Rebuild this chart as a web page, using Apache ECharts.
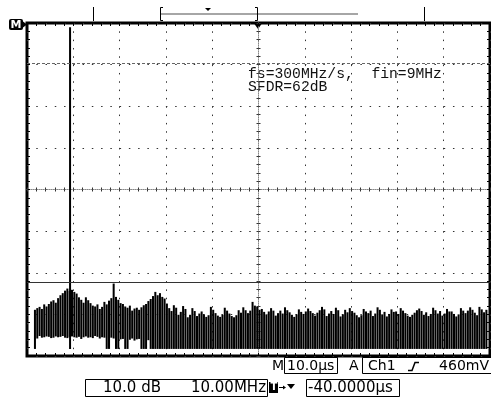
<!DOCTYPE html>
<html><head><meta charset="utf-8">
<script src="https://cdn.jsdelivr.net/npm/echarts@6/dist/echarts.min.js"></script>
<style>html,body{margin:0;padding:0;background:#fff;}#c{width:491px;height:407px;}</style>
</head><body><div id="c"></div>
<script>
// ---- data (x: MHz, 10 MHz/div; y: dB, 10 dB/div, top of screen = 0 dB) ----
// noise floor read as min/max envelope, one column every 0.5 MHz starting at 1.75 MHz
const noiseFreqStart = 1.75;
const noiseStep = 0.5;
const noiseHigh = [
 -68.9,-68.5,-68.2,-68.7,-67.6,-68.1,-67.5,-66.9,-66.6,-67.2,
 -66.1,-65.4,-64.9,-64.3,-63.8,-64.4,-64.1,-64.6,-65.0,-65.9,
 -66.5,-67.2,-65.9,-66.6,-67.3,-67.9,-68.1,-67.6,-68.7,-68.2,
 -67.0,-67.6,-66.7,-66.1,-62.6,-65.8,-66.5,-67.3,-67.5,-68.1,
 -68.4,-67.9,-69.1,-68.6,-68.4,-68.9,-68.3,-67.8,-67.5,-66.8,
 -66.3,-65.6,-64.6,-65.4,-64.9,-65.8,-66.2,-67.4,-68.5,-69.2,
 -67.8,-68.4,-70.1,-69.4,-68.0,-68.7,-70.7,-70.1,-68.5,-69.2,
 -70.4,-69.8,-69.3,-70.0,-70.6,-70.2,-68.2,-68.9,-69.7,-70.3,
 -70.6,-70.1,-68.4,-69.1,-69.8,-70.4,-70.7,-70.2,-69.0,-69.6,
 -68.3,-69.0,-69.7,-69.1,-67.0,-67.9,-68.2,-68.9,-68.7,-69.4,
 -70.0,-69.3,-68.5,-69.1,-70.3,-69.7,-69.1,-69.8,-68.3,-69.0,
 -69.5,-70.1,-70.6,-70.0,-68.8,-69.4,-69.9,-69.3,-68.6,-69.2,
 -69.7,-70.3,-69.6,-69.0,-68.2,-68.8,-70.4,-69.8,-69.2,-69.9,
 -68.4,-69.0,-70.5,-70.0,-68.9,-69.5,-68.5,-69.2,-69.6,-70.2,
 -70.7,-70.2,-68.7,-69.3,-69.7,-69.1,-70.4,-69.8,-68.3,-68.9,
 -70.0,-69.4,-70.5,-69.9,-68.8,-69.4,-69.3,-69.9,-68.5,-69.1,
 -69.7,-70.3,-70.6,-70.1,-69.6,-69.0,-68.6,-69.2,-70.1,-69.5,
 -70.4,-69.9,-68.4,-69.0,-69.8,-69.2,-70.3,-69.8,-68.7,-69.3,
 -69.3,-69.9,-70.5,-70.0,-68.5,-69.1,-69.7,-69.1,-68.3,-68.9,
 -69.6,-70.2,-68.2,-68.8,-69.5,-68.9
];
const noiseLow = [
 -78.3,-75.8,-75.2,-75.6,-75.5,-75.3,-75.4,-75.7,-75.6,-75.3,
 -75.5,-75.4,-75.2,-75.6,-75.7,-75.4,-75.3,-75.5,-75.6,-75.4,
 -75.9,-75.5,-75.3,-75.6,-75.5,-75.7,-75.2,-75.4,-75.8,-75.5,
 -75.6,-78.3,-78.3,-75.6,-75.8,-78.3,-78.3,-76.0,-75.9,-78.3,
 -78.3,-76.1,-75.8,-76.3,-76.0,-75.9,-78.3,-78.3,-78.3,-76.2,
 -78.3,-78.3,-78.3,-78.3,-78.3,-78.3,-78.3,-78.3,-78.3,-78.3,
 -78.3,-78.3,-78.3,-78.3,-78.3,-78.3,-78.3,-78.3,-78.3,-78.3,
 -78.3,-78.3,-78.3,-78.3,-78.3,-78.3,-78.3,-78.3,-78.3,-78.3,
 -78.3,-78.3,-78.3,-78.3,-78.3,-78.3,-78.3,-78.3,-78.3,-78.3,
 -78.3,-78.3,-78.3,-78.3,-78.3,-78.3,-78.3,-78.3,-78.3,-78.3,
 -78.3,-78.3,-78.3,-78.3,-78.3,-78.3,-78.3,-78.3,-78.3,-78.3,
 -78.3,-78.3,-78.3,-78.3,-78.3,-78.3,-78.3,-78.3,-78.3,-78.3,
 -78.3,-78.3,-78.3,-78.3,-78.3,-78.3,-78.3,-78.3,-78.3,-78.3,
 -78.3,-78.3,-78.3,-78.3,-78.3,-78.3,-78.3,-78.3,-78.3,-78.3,
 -78.3,-78.3,-78.3,-78.3,-78.3,-78.3,-78.3,-78.3,-78.3,-78.3,
 -78.3,-78.3,-78.3,-78.3,-78.3,-78.3,-78.3,-78.3,-78.3,-78.3,
 -78.3,-78.3,-78.3,-78.3,-78.3,-78.3,-78.3,-78.3,-78.3,-78.3,
 -78.3,-78.3,-78.3,-78.3,-78.3,-78.3,-78.3,-78.3,-78.3,-78.3,
 -78.3,-78.3,-78.3,-78.3,-78.3,-78.3,-78.3,-78.3,-78.3,-78.3,
 -78.3,-78.3,-78.3,-78.3,-78.3,-78.3
];
const fundamentalFreq = [9.3, 9.3];
const fundamentalLevel = [-1.0, -78.3];
const cursorSolid = -62.2;
const cursorDashed = -9.6;
const annotation = ['fs=300MHz/s,  fin=9MHz', 'SFDR=62dB'];
const statusTexts = ['M', '10.0\u00b5s', 'A', 'Ch1', '460mV'];
const captionTexts = ['10.0 dB', '10.00MHz', '-40.0000\u00b5s'];

const noiseData = noiseHigh.map((h, i) => [noiseFreqStart + i * noiseStep, noiseLow[i], h]);
const fundData = fundamentalFreq.map((f, i) => [f, fundamentalLevel[i]]);

const G = {left: 27, top: 23, width: 463, height: 333};
const tickCol = '#000';
function edgeAxis(extra) {
  return Object.assign({
    type: 'value', min: 0, max: 100, interval: 10,
    axisLine: {show: false, onZero: false},
    axisTick: {show: true, inside: true, length: 3, lineStyle: {color: tickCol}},
    minorTick: {show: true, splitNumber: 5, length: 3, lineStyle: {color: tickCol}},
    axisLabel: {show: false}, splitLine: {show: false}
  }, extra);
}
const chart = echarts.init(document.getElementById('c'), null, {renderer: 'canvas'});
const txtFont = '"DejaVu Sans"';
chart.setOption({
  animation: false,
  backgroundColor: '#fff',
  grid: [
    Object.assign({show: true, borderColor: '#000', borderWidth: 3, backgroundColor: 'transparent'}, G),
    {left: 27, top: 23, width: 463, height: 166.5, show: false},
    {left: 27, top: 23, width: 231.5, height: 333, show: false}
  ],
  xAxis: [
    edgeAxis({gridIndex: 0, position: 'bottom',
      splitLine: {show: true, lineStyle: {color: '#333', width: 1, type: [1.5, 6.825], cap: 'butt'}}}),
    edgeAxis({gridIndex: 0, position: 'top'}),
    edgeAxis({gridIndex: 1, position: 'bottom',
      axisLine: {show: true, onZero: false, lineStyle: {color: '#888', width: 1, type: [1, 1]}},
      axisTick: {show: true, inside: true, length: 2, lineStyle: {color: '#333'}},
      minorTick: {show: true, splitNumber: 5, length: 2, lineStyle: {color: '#333'}}}),
    edgeAxis({gridIndex: 1, position: 'bottom',
      axisTick: {show: true, inside: false, length: 2, lineStyle: {color: '#333'}},
      minorTick: {show: true, splitNumber: 5, length: 2, lineStyle: {color: '#333'}}}),
    {gridIndex: 2, type: 'value', min: 0, max: 50, show: false}
  ],
  yAxis: [
    edgeAxis({gridIndex: 0, position: 'left', min: -80, max: 0,
      splitLine: {show: true, lineStyle: {color: '#333', width: 1, type: [1.5, 7.76], cap: 'butt'}}}),
    edgeAxis({gridIndex: 0, position: 'right', min: -80, max: 0}),
    {gridIndex: 1, type: 'value', min: -40, max: 0, show: false},
    edgeAxis({gridIndex: 2, position: 'right', min: -80, max: 0,
      axisLine: {show: true, onZero: false, lineStyle: {color: '#888', width: 1, type: [1, 1]}},
      axisTick: {show: true, inside: true, length: 2, lineStyle: {color: '#333'}},
      minorTick: {show: true, splitNumber: 5, length: 2, lineStyle: {color: '#333'}}}),
    edgeAxis({gridIndex: 2, position: 'right', min: -80, max: 0,
      axisTick: {show: true, inside: false, length: 2, lineStyle: {color: '#333'}},
      minorTick: {show: true, splitNumber: 5, length: 2, lineStyle: {color: '#333'}}})
  ],
  series: [
    {
      type: 'custom', xAxisIndex: 0, yAxisIndex: 0, data: noiseData, silent: true,
      renderItem: function (params, api) {
        const f = api.value(0), lo = api.value(1), hi = api.value(2);
        const a = api.coord([f - noiseStep / 2, hi]);
        const b = api.coord([f + noiseStep / 2, lo]);
        return {type: 'rect', shape: {x: a[0], y: a[1], width: b[0] - a[0] - 0.3, height: b[1] - a[1]},
          style: {fill: '#000'}};
      }
    },
    {
      type: 'line', xAxisIndex: 0, yAxisIndex: 0, data: fundData, symbol: 'none', silent: true,
      lineStyle: {color: '#000', width: 2},
      markLine: {
        silent: true, symbol: 'none', label: {show: false},
        data: [
          {yAxis: cursorSolid, lineStyle: {color: '#333', width: 1, type: 'solid'}},
          {yAxis: cursorDashed, lineStyle: {color: '#666', width: 1, type: [3, 2]}}
        ]
      }
    }
  ],
  graphic: [
    {type: 'text', left: 248, top: 67, silent: true,
     style: {text: annotation.join('\n'), font: '14.7px "Liberation Mono"', lineHeight: 13, fill: '#111'}},
    {type: 'line', shape: {x1: 93.5, y1: 7, x2: 93.5, y2: 21}, style: {stroke: '#000', lineWidth: 1}},
    {type: 'line', shape: {x1: 424.5, y1: 7, x2: 424.5, y2: 21}, style: {stroke: '#000', lineWidth: 1}},
    {type: 'line', shape: {x1: 161, y1: 14, x2: 358, y2: 14}, style: {stroke: '#888', lineWidth: 1.5}},
    {type: 'polyline', shape: {points: [[163, 7.5], [160.5, 7.5], [160.5, 20.5], [163, 20.5]]}, style: {stroke: '#000', fill: null, lineWidth: 1}},
    {type: 'polyline', shape: {points: [[255, 7.5], [257.5, 7.5], [257.5, 20.5], [255, 20.5]]}, style: {stroke: '#000', fill: null, lineWidth: 1}},
    {type: 'polygon', shape: {points: [[205, 8], [211, 8], [208, 11]]}, style: {fill: '#000'}},
    {type: 'polygon', shape: {points: [[253, 22], [263, 22], [258, 29]]}, style: {fill: '#000'}},
    {type: 'rect', shape: {x: 9, y: 19, width: 14, height: 11, r: 2}, style: {fill: '#000'}},
    {type: 'polygon', shape: {points: [[23, 21.5], [27, 24.5], [23, 27.5]]}, style: {fill: '#000'}},
    {type: 'text', left: 10.5, top: 19.5, style: {text: 'M', font: 'bold 11px "DejaVu Sans"', fill: '#fff'}},
    {type: 'text', left: 272, top: 359, style: {text: statusTexts[0], font: '14px ' + txtFont, fill: '#000'}},
    {type: 'rect', shape: {x: 284.5, y: 357.5, width: 53, height: 16}, style: {stroke: '#000', fill: null, lineWidth: 1}},
    {type: 'text', left: 287, top: 359, style: {text: statusTexts[1], font: '14px ' + txtFont, fill: '#000'}},
    {type: 'text', left: 349, top: 359, style: {text: statusTexts[2], font: '14px ' + txtFont, fill: '#000'}},
    {type: 'rect', shape: {x: 362.5, y: 357.5, width: 132, height: 16}, style: {stroke: '#000', fill: null, lineWidth: 1}},
    {type: 'text', left: 368, top: 359, style: {text: statusTexts[3], font: '14px ' + txtFont, fill: '#000'}},
    {type: 'polyline', shape: {points: [[408, 370.5], [412, 370.5], [415, 362.5], [419, 362.5]]}, style: {stroke: '#000', fill: null, lineWidth: 1.5}},
    {type: 'text', right: 2, top: 359, style: {text: statusTexts[4], font: '14px ' + txtFont, fill: '#000'}},
    {type: 'rect', shape: {x: 85.5, y: 379.5, width: 182, height: 17}, style: {stroke: '#000', fill: null, lineWidth: 1}},
    {type: 'text', left: 103, top: 380.5, style: {text: captionTexts[0], font: '15px ' + txtFont, fill: '#000'}},
    {type: 'text', right: 491 - 266, top: 380.5, style: {text: captionTexts[1], font: '15px ' + txtFont, fill: '#000'}},
    {type: 'rect', shape: {x: 269, y: 382, width: 9, height: 11}, style: {fill: '#000'}},
    {type: 'text', left: 270.5, top: 382, style: {text: 'T', font: 'bold 10px "DejaVu Sans"', fill: '#fff'}},
    {type: 'line', shape: {x1: 279, y1: 387.5, x2: 284, y2: 387.5}, style: {stroke: '#000', lineWidth: 1}},
    {type: 'polygon', shape: {points: [[283, 385.5], [286, 387.5], [283, 389.5]]}, style: {fill: '#000'}},
    {type: 'polygon', shape: {points: [[287, 384], [295, 384], [291, 389]]}, style: {fill: '#000'}},
    {type: 'rect', shape: {x: 306.5, y: 379.5, width: 93, height: 17}, style: {stroke: '#000', fill: null, lineWidth: 1}},
    {type: 'text', left: 308, top: 380.5, style: {text: captionTexts[2], font: '15px ' + txtFont, fill: '#000'}}
  ]
});
</script></body></html>
